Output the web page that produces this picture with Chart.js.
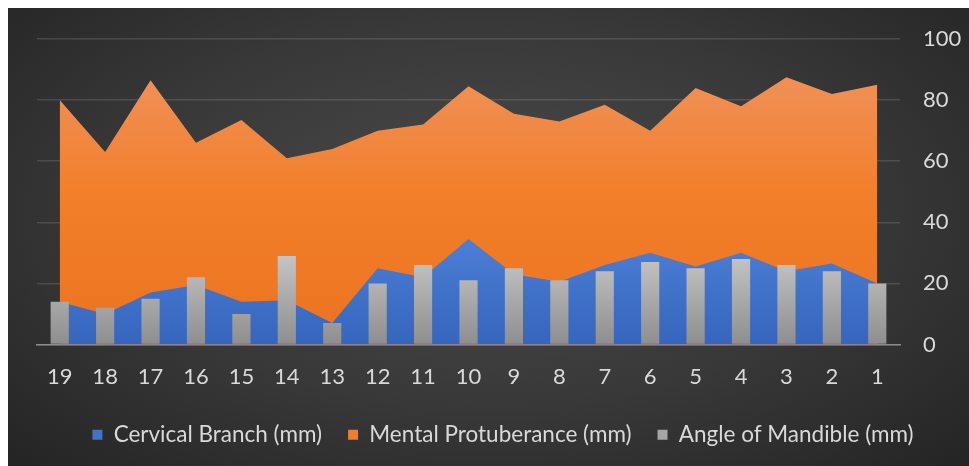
<!DOCTYPE html>
<html>
<head>
<meta charset="utf-8">
<script src="https://cdn.jsdelivr.net/npm/chart.js@4.4.1/dist/chart.umd.min.js"></script>
<style>
  html, body { margin: 0; padding: 0; background: #fff; }
  #wrap {
    position: absolute; left: 8px; top: 8px; width: 961px; height: 458px;
    background: radial-gradient(ellipse at 50% 45%, #4b4b4b 0%, #383838 55%, #242424 100%);
  }
  canvas { display: block; }
</style>
</head>
<body>
<div id="wrap"><canvas id="chart"></canvas></div>
<script>
// ===== data =====
const labels = ["19", "18", "17", "16", "15", "14", "13", "12", "11", "10", "9", "8", "7", "6", "5", "4", "3", "2", "1"];
const cervical = [14, 10, 17, 19.5, 14, 14.5, 7, 25, 22, 34.5, 23, 20.5, 26, 30, 25.5, 30, 24, 26.5, 20];
const mental = [80, 63, 86.5, 66, 73.5, 61, 64, 70, 72, 84.5, 75.5, 73, 78.5, 70, 84, 78, 87.5, 82, 85];
const angle = [14, 12, 15, 22, 10, 29, 7, 20, 26, 21, 25, 21, 24, 27, 25, 28, 26, 24, 20];

const yTicks = { min: 0, max: 100, step: 20 };
const legendColors = ["#4472c4", "#ed7d31", "#a5a5a5"];
const textColor = "#d9d9d9";
const tickFont = { family: "Lato", size: 22 };
const legendFont = { family: "Lato", size: 22.5 };

// vertical gradient helper
function grad(ctx, stops, fromVal, toVal) {
  const chart = ctx.chart;
  const area = chart.chartArea;
  if (!area) return stops[stops.length - 1][1];
  const y = chart.scales.y;
  const g = chart.ctx.createLinearGradient(0, y.getPixelForValue(fromVal), 0, y.getPixelForValue(toVal));
  stops.forEach(s => g.addColorStop(s[0], s[1]));
  return g;
}

new Chart(document.getElementById("chart"), {
  type: "bar",
  data: {
    labels: labels,
    datasets: [
      {
        type: "line",
        label: "Cervical Branch (mm)",
        data: cervical,
        order: 2,
        fill: "origin",
        tension: 0,
        borderWidth: 0,
        pointRadius: 0,
        backgroundColor: ctx => grad(ctx, [[0, "#4d7fd6"], [1, "#3565bd"]], 35, 0)
      },
      {
        type: "line",
        label: "Mental Protuberance (mm)",
        data: mental,
        order: 3,
        fill: "origin",
        tension: 0,
        borderWidth: 0,
        pointRadius: 0,
        backgroundColor: ctx => grad(ctx, [[0, "#f0915a"], [0.45, "#f27f2a"], [1, "#ec7320"]], 90, 0)
      },
      {
        label: "Angle of Mandible (mm)",
        data: angle,
        order: 1,
        barPercentage: 0.4,
        categoryPercentage: 1,
        backgroundColor: ctx => grad(ctx, [[0, "#c6c6c6"], [1, "#8e8e8e"]], 30, 0)
      }
    ]
  },
  options: {
    responsive: true,
    maintainAspectRatio: false,
    animation: false,
    layout: { padding: { left: 29, top: 31, right: 0, bottom: 10 } },
    scales: {
      x: {
        grid: { display: false, drawTicks: false },
        border: { display: true, color: "#8c8c8c", width: 1.5 },
        ticks: { color: textColor, font: tickFont, padding: 19, maxRotation: 0 },
        afterFit: s => { s.height = 53; }
      },
      y: {
        position: "right",
        min: yTicks.min,
        max: yTicks.max,
        grid: { color: "rgba(255,255,255,0.13)", lineWidth: 1.5, drawTicks: false },
        border: { display: false },
        ticks: { stepSize: yTicks.step, color: textColor, font: tickFont, padding: 23 },
        afterFit: s => { s.width = 69; s.paddingTop = 0; s.paddingBottom = 0; }
      }
    },
    plugins: {
      tooltip: { enabled: false },
      legend: {
        position: "bottom",
        labels: {
          color: textColor,
          font: legendFont,
          boxWidth: 10,
          boxHeight: 10,
          padding: 26,
          sort: (a, b) => a.datasetIndex - b.datasetIndex,
          generateLabels: chart => {
            const items = Chart.defaults.plugins.legend.labels.generateLabels(chart);
            items.forEach(it => {
              it.fillStyle = legendColors[it.datasetIndex];
              it.strokeStyle = "transparent";
              it.lineWidth = 0;
            });
            return items;
          }
        }
      }
    }
  }
});
</script>
</body>
</html>
